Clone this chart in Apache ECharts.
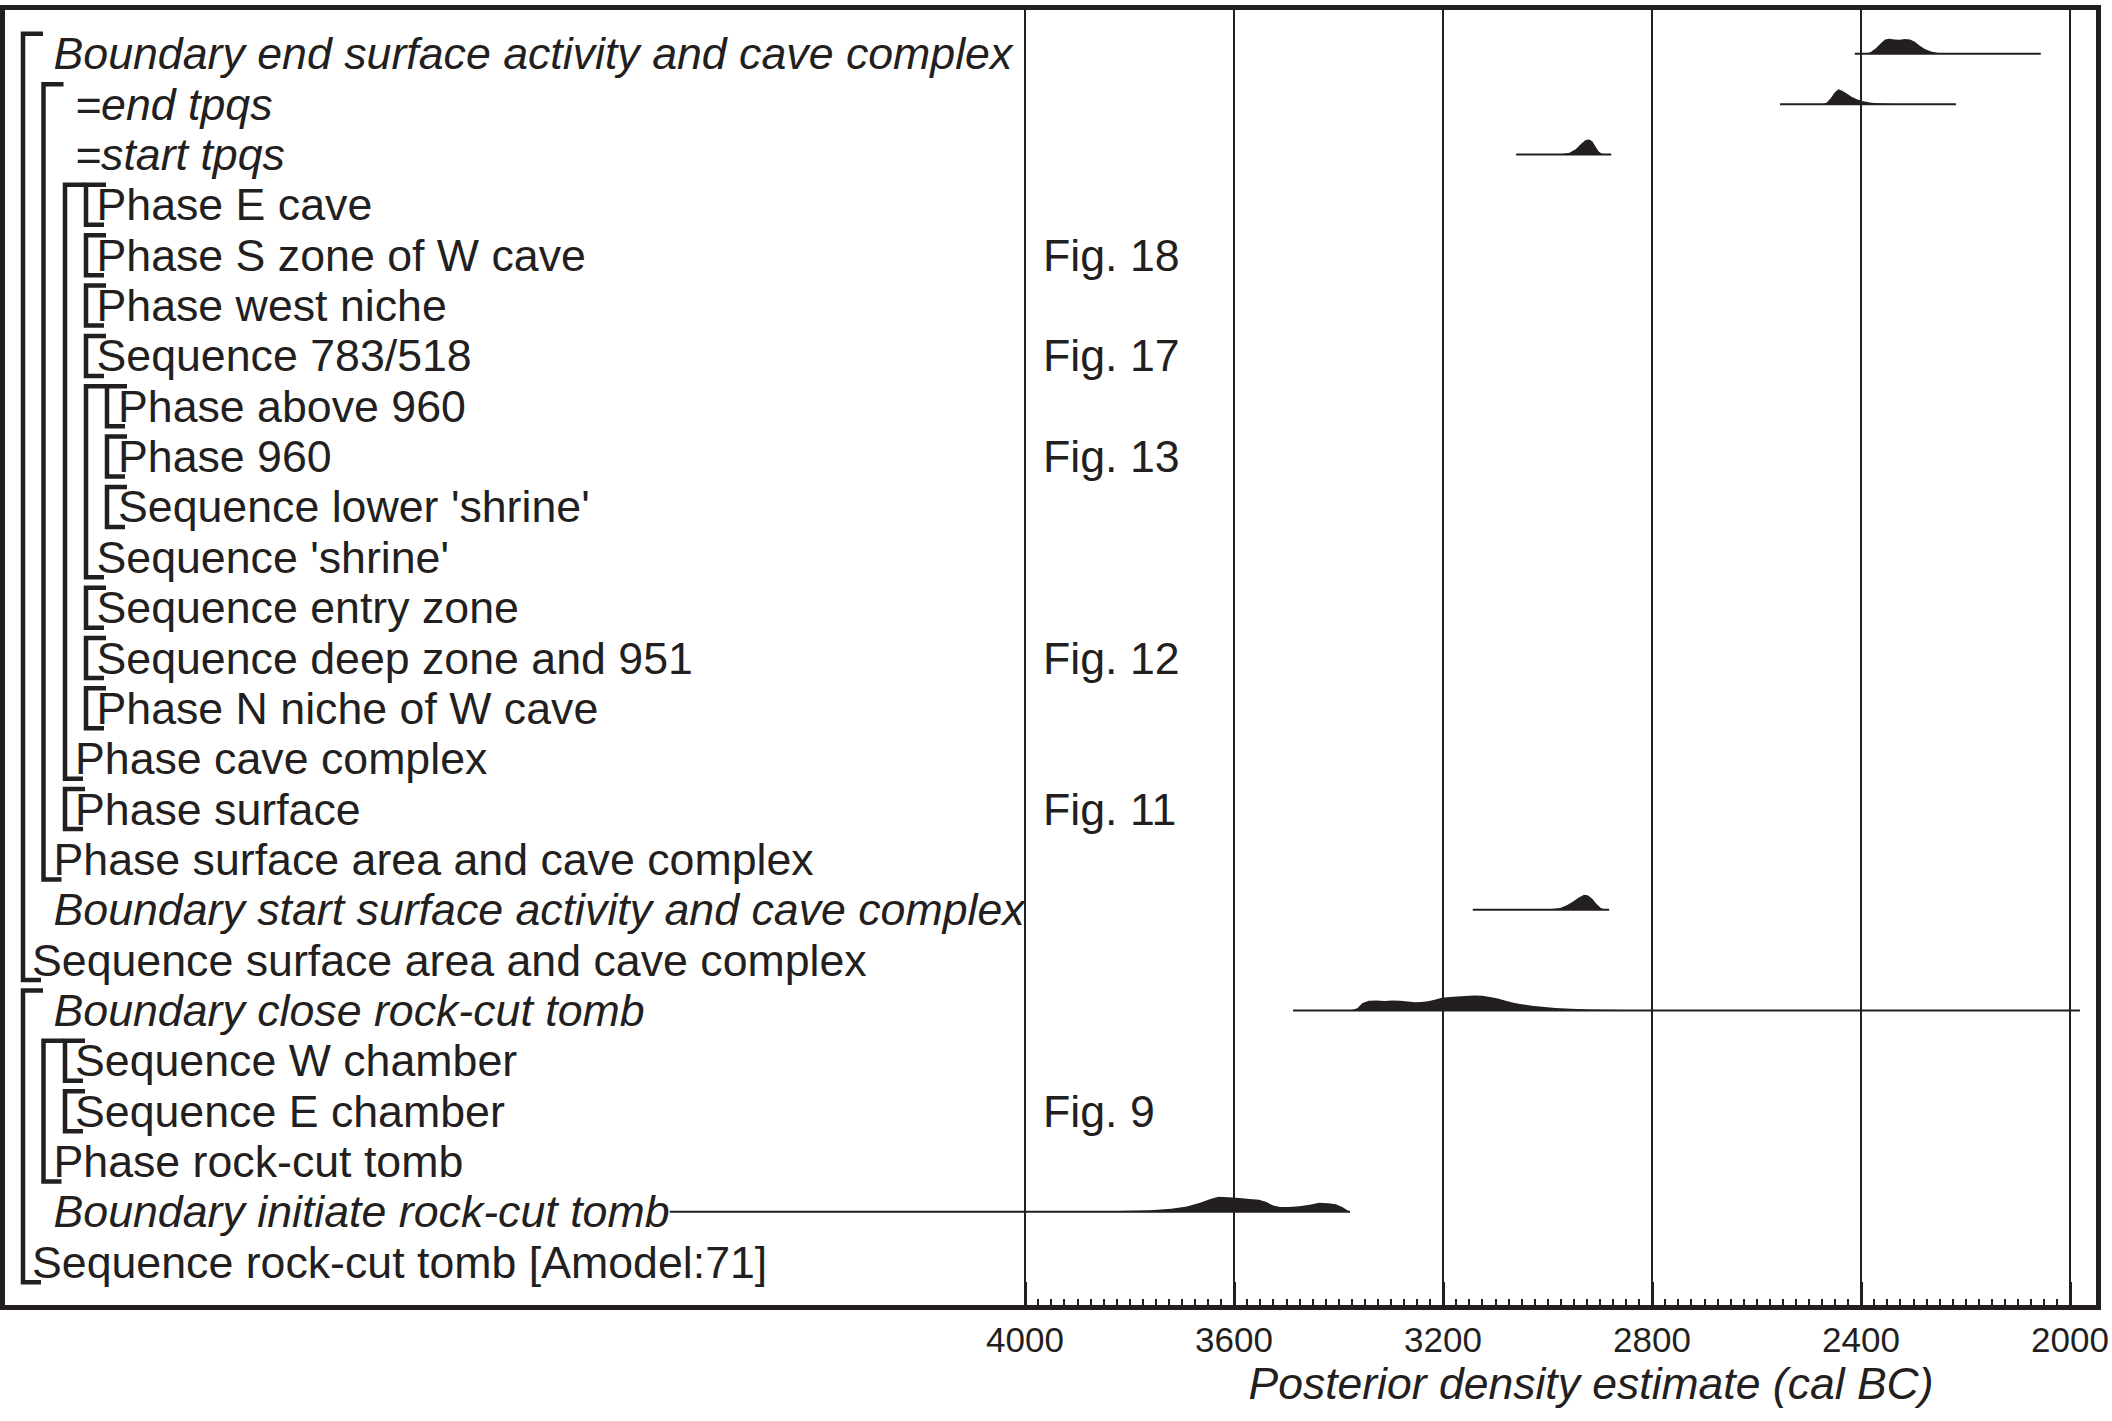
<!DOCTYPE html>
<html>
<head>
<meta charset="utf-8">
<script src="https://cdn.jsdelivr.net/npm/echarts@6/dist/echarts.min.js"></script>
<style>
html,body{margin:0;padding:0;background:#ffffff;}
#chart{width:2112px;height:1421px;}
</style>
</head>
<body>
<div id="chart"></div>
<script>
// ---------- data ----------
const rowLabels = [
  'Boundary end surface activity and cave complex',
  '=end tpqs',
  '=start tpqs',
  'Phase E cave',
  'Phase S zone of W cave',
  'Phase west niche',
  'Sequence 783/518',
  'Phase above 960',
  'Phase 960',
  "Sequence lower 'shrine'",
  "Sequence 'shrine'",
  'Sequence entry zone',
  'Sequence deep zone and 951',
  'Phase N niche of W cave',
  'Phase cave complex',
  'Phase surface',
  'Phase surface area and cave complex',
  'Boundary start surface activity and cave complex',
  'Sequence surface area and cave complex',
  'Boundary close rock-cut tomb',
  'Sequence W chamber',
  'Sequence E chamber',
  'Phase rock-cut tomb',
  'Boundary initiate rock-cut tomb',
  'Sequence rock-cut tomb [Amodel:71]'
];
const rowIndent = [1,2,2,3,3,3,3,4,4,4,3,3,3,3,2,2,1,1,0,1,2,2,1,1,0];
const rowItalic = [1,1,1,0,0,0,0,0,0,0,0,0,0,0,0,0,0,1,0,1,0,0,0,1,0];

const figRows = [5,7,9,13,16,22];
const figLabels = ['Fig. 18','Fig. 17','Fig. 13','Fig. 12','Fig. 11','Fig. 9'];

// [level, first row, last row]
const brackets = [
  [0,1,19],[0,20,25],
  [1,2,17],[1,21,23],
  [2,4,15],[2,16,16],[2,21,21],[2,22,22],
  [3,4,4],[3,5,5],[3,6,6],[3,7,7],[3,8,11],[3,12,12],[3,13,13],[3,14,14],
  [4,8,8],[4,9,9],[4,10,10]
];

const xTickValues = [4000,3600,3200,2800,2400,2000];
const axisTitle = 'Posterior density estimate (cal BC)';

// posterior densities: [year cal BC, relative density]
const endSurfaceCave = [[2392,0],[2382,0.1],[2372,0.35],[2362,0.7],[2354,0.95],[2346,1.0],[2336,0.96],[2326,0.93],[2316,0.98],[2306,0.96],[2297,0.8],[2288,0.55],[2278,0.32],[2266,0.15],[2252,0.06],[2235,0.02],[2215,0]];
const endTpqs = [[2475,0],[2466,0.1],[2458,0.4],[2450,0.8],[2443,1.0],[2436,0.9],[2428,0.72],[2418,0.5],[2408,0.33],[2396,0.2],[2380,0.1],[2360,0.04],[2335,0.01],[2310,0]];
const startTpqs = [[2990,0],[2972,0.03],[2958,0.12],[2946,0.35],[2936,0.7],[2927,0.96],[2920,1.0],[2914,0.86],[2908,0.52],[2902,0.2],[2896,0.05],[2888,0]];
const startSurfaceCave = [[3060,0],[3020,0.01],[2992,0.05],[2976,0.12],[2963,0.3],[2951,0.55],[2940,0.82],[2930,1.0],[2922,0.95],[2914,0.72],[2906,0.38],[2898,0.12],[2890,0.02],[2882,0]];
const closeTomb = [[3378,0],[3364,0.15],[3354,0.5],[3342,0.64],[3327,0.66],[3312,0.63],[3297,0.66],[3282,0.64],[3267,0.6],[3254,0.55],[3242,0.56],[3229,0.62],[3216,0.72],[3202,0.85],[3187,0.9],[3172,0.93],[3157,0.97],[3140,1.0],[3125,0.98],[3110,0.9],[3095,0.8],[3080,0.65],[3065,0.52],[3050,0.42],[3030,0.32],[3010,0.24],[2985,0.17],[2955,0.11],[2920,0.07],[2880,0.04],[2840,0.02],[2800,0.01],[2700,0.003],[2500,0]];
const initiateTomb = [[4300,0],[4100,0.005],[4000,0.012],[3900,0.025],[3820,0.05],[3760,0.1],[3720,0.2],[3690,0.36],[3665,0.6],[3645,0.86],[3630,1.0],[3610,0.98],[3590,0.93],[3570,0.86],[3552,0.8],[3538,0.65],[3525,0.42],[3512,0.32],[3495,0.33],[3475,0.38],[3455,0.48],[3437,0.6],[3420,0.58],[3405,0.5],[3392,0.3],[3383,0.1],[3378,0]];

const distributions = [endSurfaceCave, endTpqs, startTpqs, startSurfaceCave, closeTomb, initiateTomb];
const distRows = [1,2,3,18,20,24];
const distRanges = [[2412,2056],[2555,2218],[3060,2878],[3143,2882],[3487,1981],[4680,3378]];

// ---------- styling ----------
const INK = '#231f20';
const FONT = '"Liberation Sans", Arial, Helvetica, sans-serif';
const LABEL_SIZE = 44.7;
const PEAK = 15;          // px height of a density peak
const TEXT_X0 = 32, TEXT_STEP = 21.5;
const LEVEL_X = [23, 43.5, 65, 86, 107];
const TICK = 20, HALF = 20;

const chart = echarts.init(document.getElementById('chart'), null, {renderer: 'svg'});

function distSeries(points, row, range) {
  return {
    type: 'custom', coordinateSystem: 'cartesian2d', clip: false, silent: true, z: 5,
    data: points.map(p => [p[0], row, p[1]]),
    encode: {x: 0, y: 1},
    renderItem: function (params, api) {
      if (params.dataIndex !== 0) return null;
      const poly = points.map(p => {
        const c = api.coord([p[0], row]);
        return [c[0], c[1] - p[1] * PEAK];
      });
      const a = api.coord([range[0], row]);
      const b = api.coord([range[1], row]);
      return {
        type: 'group',
        children: [
          {type: 'line', shape: {x1: a[0], y1: a[1], x2: b[0], y2: b[1]}, style: {stroke: INK, lineWidth: 2}},
          {type: 'polygon', shape: {points: poly}, style: {fill: INK}}
        ]
      };
    }
  };
}

const series = [];

// row labels
series.push({
  type: 'custom', coordinateSystem: 'cartesian2d', clip: false, silent: true, z: 4,
  data: rowLabels.map((t, i) => [4000, i + 1]),
  encode: {x: 0, y: 1},
  renderItem: function (params, api) {
    const i = params.dataIndex;
    const y = api.coord([4000, api.value(1)])[1];
    return {
      type: 'text',
      x: TEXT_X0 + TEXT_STEP * rowIndent[i],
      y: y,
      style: {
        text: rowLabels[i],
        fill: INK,
        fontSize: LABEL_SIZE,
        fontFamily: FONT,
        fontStyle: rowItalic[i] ? 'italic' : 'normal',
        align: 'left',
        verticalAlign: 'middle'
      }
    };
  }
});

// figure references
series.push({
  type: 'custom', coordinateSystem: 'cartesian2d', clip: false, silent: true, z: 4,
  data: figRows.map(r => [4000, r]),
  encode: {x: 0, y: 1},
  renderItem: function (params, api) {
    const i = params.dataIndex;
    const y = api.coord([4000, api.value(1)])[1];
    return {
      type: 'text', x: 1043, y: y,
      style: {text: figLabels[i], fill: INK, fontSize: LABEL_SIZE, fontFamily: FONT, align: 'left', verticalAlign: 'middle'}
    };
  }
});

// brackets
series.push({
  type: 'custom', coordinateSystem: 'cartesian2d', clip: false, silent: true, z: 4,
  data: brackets.map(b => [4000, b[1], b[2], b[0]]),
  encode: {x: 0, y: 1},
  renderItem: function (params, api) {
    const lvl = api.value(3);
    const yTop = api.coord([4000, api.value(1)])[1] - HALF;
    const yBot = api.coord([4000, api.value(2)])[1] + HALF;
    const x = LEVEL_X[lvl];
    return {
      type: 'polyline',
      shape: {points: [[x + TICK, yTop], [x, yTop], [x, yBot], [x + TICK - 2, yBot]]},
      style: {stroke: INK, lineWidth: 4.5, fill: null, lineJoin: 'miter'}
    };
  }
});

distributions.forEach((d, i) => series.push(distSeries(d, distRows[i], distRanges[i])));

const option = {
  backgroundColor: '#ffffff',
  animation: false,
  grid: {left: 1025, right: 42, top: 7, bottom: 113, containLabel: false, outerBoundsMode: 'none'},
  xAxis: {
    type: 'value', inverse: true, min: 2000, max: 4000, interval: 400,
    position: 'bottom',
    axisLine: {show: false},
    axisTick: {show: true, inside: true, length: 26, lineStyle: {color: INK, width: 3}},
    minorTick: {show: true, splitNumber: 16, length: 9, lineStyle: {color: INK, width: 2}},
    minorSplitLine: {show: false},
    splitLine: {show: true, lineStyle: {color: INK, width: 2}},
    axisLabel: {
      show: true, margin: 14, color: INK, fontSize: 35, fontFamily: FONT,
      customValues: xTickValues,
      formatter: v => String(v)
    }
  },
  yAxis: {
    type: 'value', inverse: true, min: 0.07, max: 25.91, show: false,
    splitLine: {show: false}
  },
  graphic: [
    {
      type: 'rect', z: 100, silent: true,
      shape: {x: 2.5, y: 7.5, width: 2096, height: 1300},
      style: {fill: 'none', stroke: INK, lineWidth: 5}
    },
    {
      type: 'text', z: 100, silent: true, x: 1591, y: 1383,
      style: {text: axisTitle, fill: INK, fontSize: 44.5, fontStyle: 'italic', fontFamily: FONT, align: 'center', verticalAlign: 'middle'}
    }
  ],
  series: series
};

chart.setOption(option);
</script>
</body>
</html>
